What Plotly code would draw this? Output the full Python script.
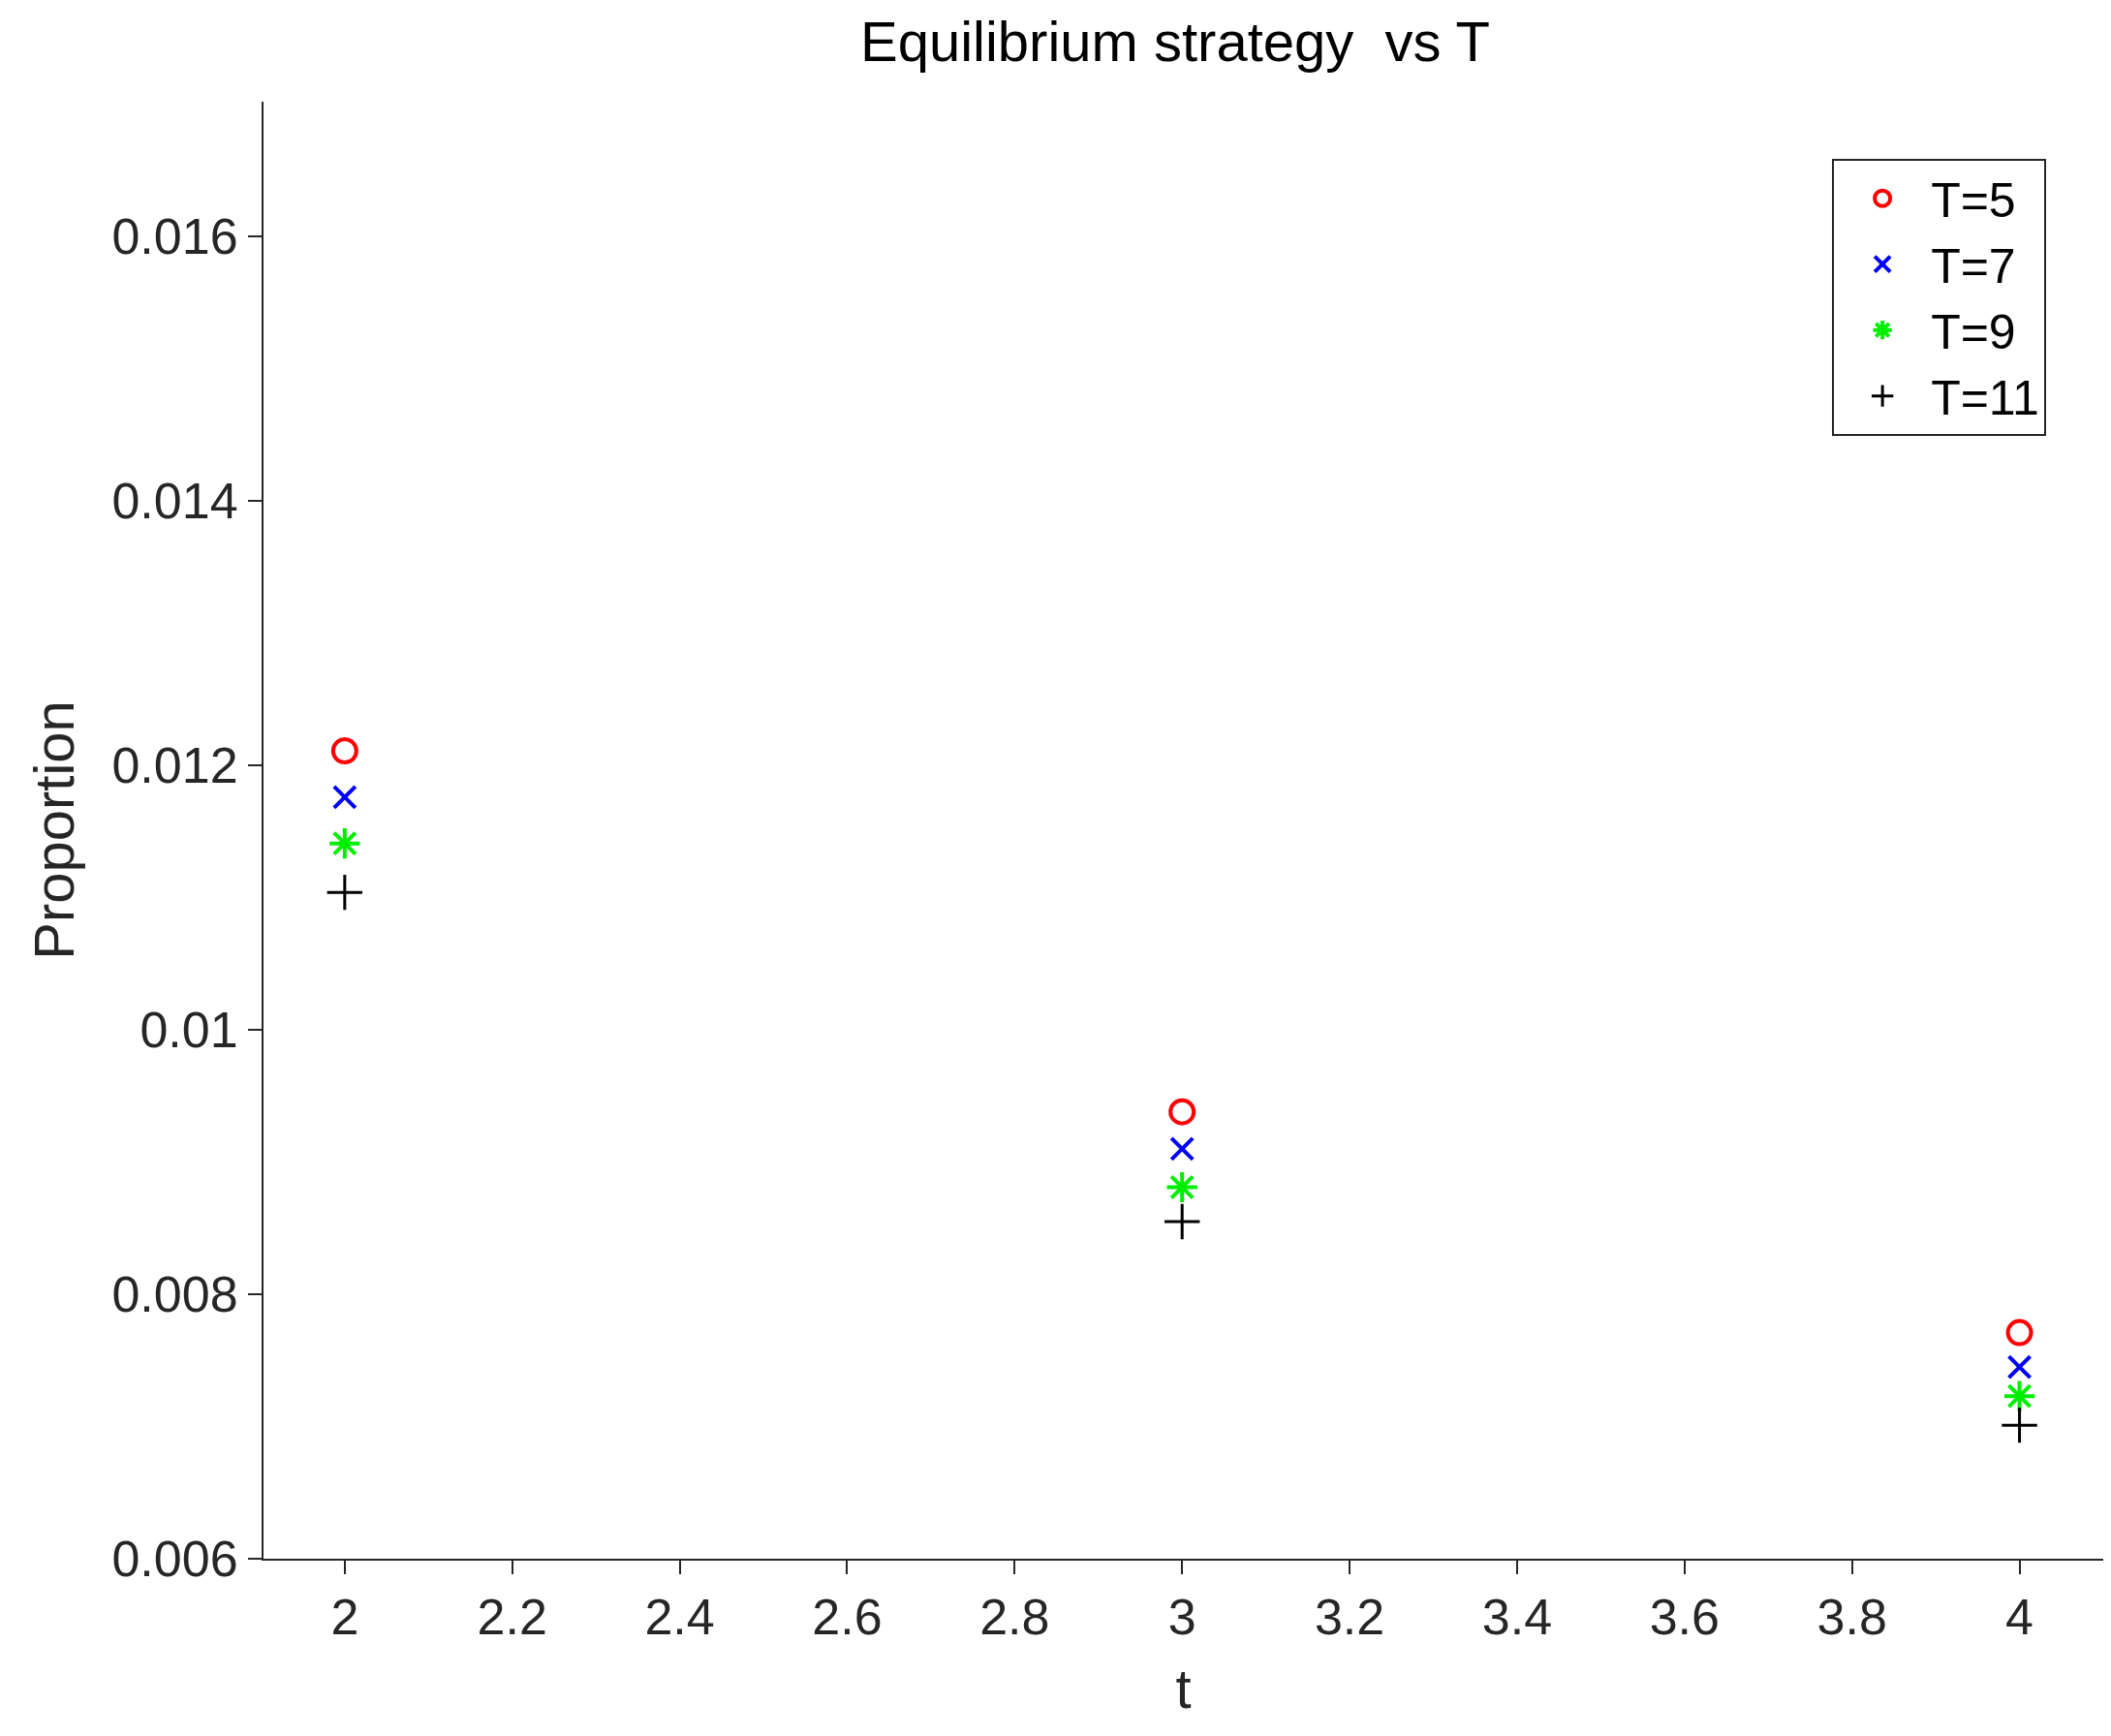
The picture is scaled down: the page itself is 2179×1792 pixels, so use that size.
import plotly.graph_objects as go

t_vals = [2, 3, 4]
series_names = ["T=5", "T=7", "T=9", "T=11"]
y_T5 = [0.01211, 0.00938, 0.00771]
y_T7 = [0.01176, 0.00910, 0.00745]
y_T9 = [0.01141, 0.00881, 0.00723]
y_T11 = [0.01104, 0.00855, 0.00701]
x_ticks = [2, 2.2, 2.4, 2.6, 2.8, 3, 3.2, 3.4, 3.6, 3.8, 4]
x_ticklabels = ["2", "2.2", "2.4", "2.6", "2.8", "3", "3.2", "3.4", "3.6", "3.8", "4"]
y_ticks = [0.006, 0.008, 0.01, 0.012, 0.014, 0.016]
y_ticklabels = ["0.006", "0.008", "0.01", "0.012", "0.014", "0.016"]

styles = [
    dict(symbol="circle-open", color="#ff0000", size=24, line=dict(width=4, color="#ff0000")),
    dict(symbol="x-thin-open", color="#0000ff", size=22, line=dict(width=4, color="#0000ff")),
    dict(symbol="asterisk-open", color="#00ee00", size=26, line=dict(width=4, color="#00ee00")),
    dict(symbol="cross-thin-open", color="#000000", size=26, line=dict(width=3, color="#000000")),
]

fig = go.Figure()
for name, ys, st in zip(series_names, [y_T5, y_T7, y_T9, y_T11], styles):
    fig.add_trace(go.Scatter(x=t_vals, y=ys, mode="markers", name=name, marker=st))

font = "Liberation Sans, Arial, sans-serif"
axis_common = dict(showgrid=False, zeroline=False, showline=True, linecolor="#262626", linewidth=2,
                   ticks="outside", ticklen=14, tickwidth=2, tickcolor="#262626",
                   tickfont=dict(size=52, color="#262626", family=font))
fig.update_layout(
    width=2179, height=1792,
    paper_bgcolor="white", plot_bgcolor="white",
    margin=dict(l=264, r=16, t=97, b=191),
    title=dict(text="Equilibrium strategy  vs T", x=0.553, xanchor="center", y=0.992, yanchor="top",
               font=dict(size=58, color="#000000", family=font)),
    xaxis=dict(range=[1.903, 4.10], tickvals=x_ticks, ticktext=x_ticklabels,
               title=dict(text="t", font=dict(size=58, color="#262626", family=font), standoff=25),
               **axis_common),
    yaxis=dict(range=[0.006, 0.01702], tickvals=y_ticks, ticktext=y_ticklabels,
               title=dict(text="Proportion", font=dict(size=58, color="#262626", family=font), standoff=20),
               **axis_common),
    legend=dict(x=0.969, y=0.961, xanchor="right", yanchor="top", bgcolor="white",
                bordercolor="#262626", borderwidth=2,
                font=dict(size=50, color="#000000", family=font), itemwidth=90,
                tracegroupgap=14),
    showlegend=True,
)
fig.write_html("out.html")
